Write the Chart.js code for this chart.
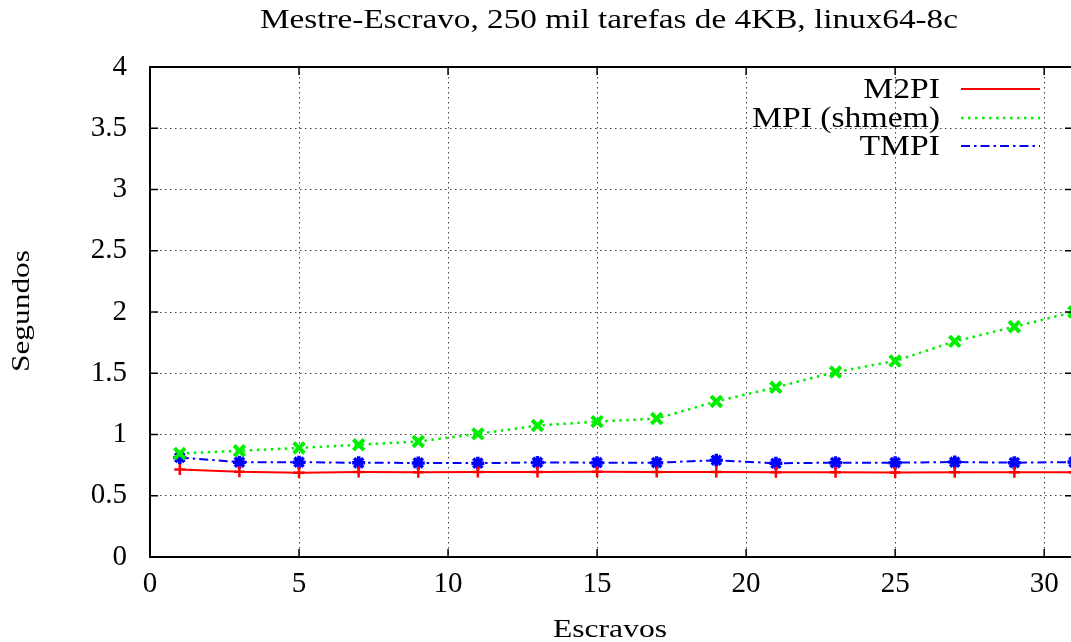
<!DOCTYPE html>
<html>
<head>
<meta charset="utf-8">
<script src="https://cdn.jsdelivr.net/npm/chart.js@4"></script>
<style>
html,body{margin:0;padding:0;background:#fff;}
#wrap{width:1071px;height:642px;position:relative;}
</style>
</head>
<body>
<div id="wrap"><canvas id="c" width="1071" height="642"></canvas></div>
<script>
const escravos = [1,3,5,7,9,11,13,15,17,19,21,23,25,27,29,31];
const m2pi  = [0.715,0.696,0.688,0.693,0.692,0.693,0.693,0.695,0.693,0.693,0.692,0.692,0.690,0.692,0.692,0.692];
const mpiShmem = [0.845,0.867,0.890,0.916,0.943,1.005,1.073,1.105,1.130,1.270,1.385,1.510,1.600,1.760,1.880,2.000];
const tmpi  = [0.812,0.774,0.774,0.769,0.768,0.766,0.772,0.770,0.770,0.790,0.765,0.770,0.770,0.775,0.770,0.775];
const yTicks = [0,0.5,1,1.5,2,2.5,3,3.5,4];
const xTicks = [0,5,10,15,20,25,30];
const titleText = 'Mestre-Escravo, 250 mil tarefas de 4KB, linux64-8c';
const xTitle = 'Escravos';
const yTitle = 'Segundos';
const seriesNames = ['M2PI','MPI (shmem)','TMPI'];

const FONT = '"Liberation Serif", "DejaVu Serif", serif';
const pts = a => escravos.map((x,i)=>({x, y:a[i]}));

const styles = [
  {color:'#ff0000', dash:[], width:2, point:'cross', r:5.5, pw:2.5},
  {color:'#00ee00', dash:[2.5,4.5], width:2.5, point:'crossRot', r:7.5, pw:4},
  {color:'#0000ff', dash:[9,4,2.5,4], width:2, point:'star', r:6.5, pw:3.5}
];
const seriesData = [m2pi, mpiShmem, tmpi];

function fitText(ctx, text, x, y, size, targetW, align, refText){
  ctx.font = size + 'px ' + FONT;
  const w = ctx.measureText(refText || text).width;
  const sx = targetW / w;
  ctx.save();
  ctx.translate(x, y);
  ctx.scale(sx, 1);
  ctx.textAlign = align;
  ctx.textBaseline = 'alphabetic';
  ctx.fillText(text, 0, 0);
  ctx.restore();
}

const decor = {
  id:'decor',
  afterDraw(chart){
    const ctx = chart.ctx, a = chart.chartArea;
    const xs = chart.scales.x, ys = chart.scales.y;
    ctx.save();
    ctx.strokeStyle = '#000'; ctx.lineWidth = 2; ctx.setLineDash([]);
    ctx.beginPath();
    ctx.moveTo(a.right+2, a.top); ctx.lineTo(a.left, a.top); ctx.lineTo(a.left, a.bottom); ctx.lineTo(a.right+2, a.bottom);
    ctx.stroke();
    ctx.lineWidth = 1.5;
    ctx.beginPath();
    xTicks.forEach(v=>{const p = xs.getPixelForValue(v);
      ctx.moveTo(p,a.bottom); ctx.lineTo(p,a.bottom-8);
      ctx.moveTo(p,a.top); ctx.lineTo(p,a.top+8);});
    yTicks.forEach(v=>{const p = ys.getPixelForValue(v);
      ctx.moveTo(a.left,p); ctx.lineTo(a.left+8,p);
      ctx.moveTo(a.right,p); ctx.lineTo(a.right-6,p);});
    ctx.stroke();
    ctx.fillStyle = '#000';
    fitText(ctx, titleText, 609, 28, 27, 698, 'center');
    fitText(ctx, xTitle, 610, 637, 26, 114, 'center');
    ctx.save();
    ctx.translate(29, 311); ctx.rotate(-Math.PI/2);
    fitText(ctx, yTitle, 0, 0, 26, 122, 'center');
    ctx.restore();
    const ly = [98,127,155];
    seriesNames.forEach((n,i)=>{
      ctx.fillStyle = '#000';
      fitText(ctx, n, 940, ly[i], 29, 188, 'right', 'MPI (shmem)');
      const s = styles[i];
      ctx.strokeStyle = s.color; ctx.lineWidth = s.width; ctx.setLineDash(s.dash);
      ctx.beginPath(); ctx.moveTo(961, ly[i]-9); ctx.lineTo(1040, ly[i]-9); ctx.stroke();
    });
    ctx.restore();
  }
};

new Chart(document.getElementById('c'), {
  type:'line',
  data:{
    datasets: seriesNames.map((n,i)=>({
      label:n,
      data: pts(seriesData[i]),
      borderColor: styles[i].color,
      backgroundColor: styles[i].color,
      borderWidth: styles[i].width,
      borderDash: styles[i].dash,
      pointStyle: styles[i].point,
      pointRadius: styles[i].r,
      pointBorderWidth: styles[i].pw,
      pointBorderColor: styles[i].color,
      tension: 0,
      fill:false
    }))
  },
  options:{
    responsive:false,
    animation:false,
    devicePixelRatio:1,
    layout:{autoPadding:false, padding:{left:0,right:0,top:67,bottom:0}},
    plugins:{legend:{display:false}, title:{display:false}, tooltip:{enabled:false}},
    scales:{
      x:{
        type:'linear', min:0, max:30.9,
        afterFit(s){ s.height = 85; s.paddingLeft = 0; s.paddingRight = 0; },
        afterBuildTicks(s){ s.ticks = xTicks.map(v=>({value:v})); },
        ticks:{ includeBounds:false, stepSize:5, maxRotation:0, autoSkip:false, padding:10,
          font:{family:FONT, size:29}, color:'#000', callback:v=>String(v)},
        grid:{ color:'rgba(0,0,0,0.75)', lineWidth:1, drawTicks:false },
        border:{ display:false, dash:[1.5,3.5] }
      },
      y:{
        type:'linear', min:0, max:4,
        afterFit(s){ s.width = 150; s.paddingTop = 0; s.paddingBottom = 0; },
        afterBuildTicks(s){ s.ticks = yTicks.map(v=>({value:v})); },
        ticks:{ stepSize:0.5, padding:23, autoSkip:false,
          font:{family:FONT, size:29}, color:'#000', callback:v=>String(v)},
        grid:{ color:'rgba(0,0,0,0.75)', lineWidth:1, drawTicks:false },
        border:{ display:false, dash:[1.5,3.5] }
      }
    }
  },
  plugins:[decor]
});
</script>
</body>
</html>
